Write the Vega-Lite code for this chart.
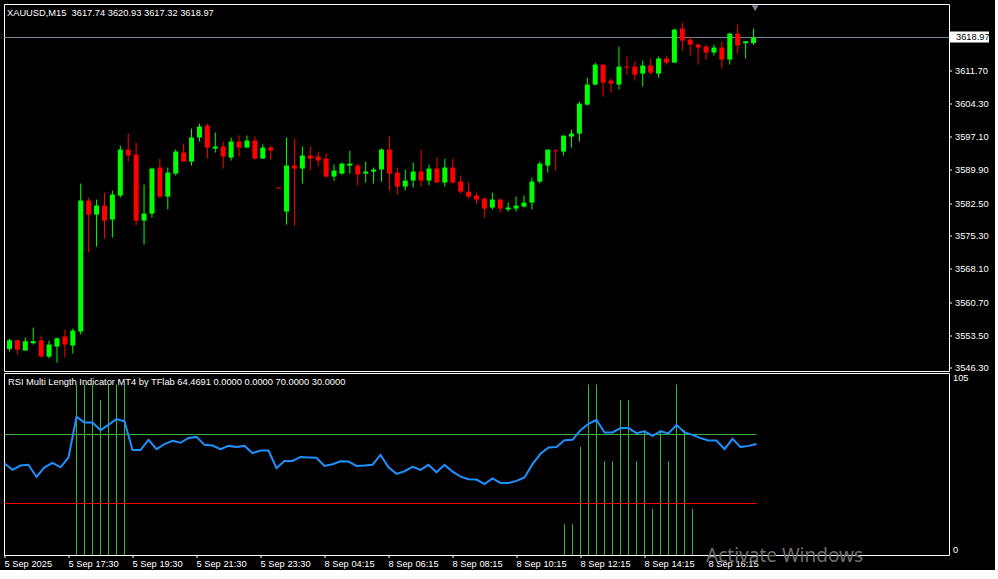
{
  "$schema": "https://vega.github.io/schema/vega-lite/v6.json",
  "background": "#000000",
  "padding": {"left": 3, "top": 3, "right": 0, "bottom": 0},
  "bounds": "flush",
  "spacing": 2,
  "config": {
    "view": {"stroke": "#ffffff", "strokeWidth": 1},
    "font": "Liberation Sans",
    "axis": {"labelFont": "Liberation Sans", "labelFontSize": 9.3, "labelColor": "#ffffff", "domain": false, "grid": false, "tickColor": "#ffffff", "title": null, "labelOverlap": false, "translate": 0},
    "title": {"font": "Liberation Sans", "fontSize": 9.3, "fontWeight": "normal", "color": "#ffffff", "anchor": "start", "frame": "group"}
  },
  "datasets": {
    "candles": [
      {"i":0,"o":3550.56,"h":3552.76,"l":3549.97,"c":3552.46},
      {"i":1,"o":3552.46,"h":3552.46,"l":3549.31,"c":3550.41},
      {"i":2,"o":3550.19,"h":3553.05,"l":3550.19,"c":3552.24},
      {"i":3,"o":3551.80,"h":3555.25,"l":3551.51,"c":3552.24},
      {"i":4,"o":3552.46,"h":3553.49,"l":3548.66,"c":3548.87},
      {"i":5,"o":3548.87,"h":3552.39,"l":3548.44,"c":3551.51},
      {"i":6,"o":3551.07,"h":3553.05,"l":3547.56,"c":3552.90},
      {"i":7,"o":3553.27,"h":3554.81,"l":3548.66,"c":3551.51},
      {"i":8,"o":3551.29,"h":3555.03,"l":3549.53,"c":3554.59},
      {"i":9,"o":3554.37,"h":3586.88,"l":3553.71,"c":3583.15},
      {"i":10,"o":3583.15,"h":3583.80,"l":3571.72,"c":3580.07},
      {"i":11,"o":3580.07,"h":3583.37,"l":3573.04,"c":3582.05},
      {"i":12,"o":3582.05,"h":3584.90,"l":3574.80,"c":3578.75},
      {"i":13,"o":3578.97,"h":3585.34,"l":3575.02,"c":3584.46},
      {"i":14,"o":3584.24,"h":3595.23,"l":3583.80,"c":3594.35},
      {"i":15,"o":3594.35,"h":3597.86,"l":3591.71,"c":3593.03},
      {"i":16,"o":3593.25,"h":3595.89,"l":3577.65,"c":3578.75},
      {"i":17,"o":3578.75,"h":3586.66,"l":3573.48,"c":3580.29},
      {"i":18,"o":3580.29,"h":3590.40,"l":3579.41,"c":3590.18},
      {"i":19,"o":3590.40,"h":3592.37,"l":3583.58,"c":3584.02},
      {"i":20,"o":3584.02,"h":3590.40,"l":3581.17,"c":3589.30},
      {"i":21,"o":3589.08,"h":3594.35,"l":3588.64,"c":3593.91},
      {"i":22,"o":3593.69,"h":3595.67,"l":3591.71,"c":3591.71},
      {"i":23,"o":3591.71,"h":3598.96,"l":3590.83,"c":3596.99},
      {"i":24,"o":3596.99,"h":3600.06,"l":3596.11,"c":3599.40},
      {"i":25,"o":3599.62,"h":3600.06,"l":3592.37,"c":3594.79},
      {"i":26,"o":3594.57,"h":3598.08,"l":3593.69,"c":3595.01},
      {"i":27,"o":3595.01,"h":3596.11,"l":3590.18,"c":3592.81},
      {"i":28,"o":3592.59,"h":3596.99,"l":3591.93,"c":3596.11},
      {"i":29,"o":3596.11,"h":3597.43,"l":3592.81,"c":3594.79},
      {"i":30,"o":3594.79,"h":3597.43,"l":3594.79,"c":3596.33},
      {"i":31,"o":3596.33,"h":3597.21,"l":3592.15,"c":3592.37},
      {"i":32,"o":3592.37,"h":3595.45,"l":3592.37,"c":3594.79},
      {"i":33,"o":3594.79,"h":3595.23,"l":3592.15,"c":3594.13},
      {"i":34,"o":3586.00,"h":3586.00,"l":3585.78,"c":3585.78},
      {"i":35,"o":3580.73,"h":3596.99,"l":3577.87,"c":3590.83},
      {"i":36,"o":3590.83,"h":3596.77,"l":3577.65,"c":3590.18},
      {"i":37,"o":3590.18,"h":3595.01,"l":3586.88,"c":3593.03},
      {"i":38,"o":3593.03,"h":3595.01,"l":3589.74,"c":3592.37},
      {"i":39,"o":3592.81,"h":3593.91,"l":3590.61,"c":3591.93},
      {"i":40,"o":3592.37,"h":3593.47,"l":3588.20,"c":3588.42},
      {"i":41,"o":3588.42,"h":3591.05,"l":3587.54,"c":3589.74},
      {"i":42,"o":3589.08,"h":3591.49,"l":3588.86,"c":3591.27},
      {"i":43,"o":3590.83,"h":3594.13,"l":3589.08,"c":3591.27},
      {"i":44,"o":3590.83,"h":3591.27,"l":3586.44,"c":3588.86},
      {"i":45,"o":3589.08,"h":3591.71,"l":3587.10,"c":3589.52},
      {"i":46,"o":3589.52,"h":3590.40,"l":3586.88,"c":3589.96},
      {"i":47,"o":3589.96,"h":3594.57,"l":3587.32,"c":3594.35},
      {"i":48,"o":3594.35,"h":3597.21,"l":3585.34,"c":3589.08},
      {"i":49,"o":3589.30,"h":3590.40,"l":3584.46,"c":3586.22},
      {"i":50,"o":3586.22,"h":3589.96,"l":3585.34,"c":3587.54},
      {"i":51,"o":3587.54,"h":3591.49,"l":3586.00,"c":3589.52},
      {"i":52,"o":3589.52,"h":3594.35,"l":3586.22,"c":3587.54},
      {"i":53,"o":3587.54,"h":3591.05,"l":3586.44,"c":3590.18},
      {"i":54,"o":3590.18,"h":3592.59,"l":3587.10,"c":3587.10},
      {"i":55,"o":3587.10,"h":3592.37,"l":3586.22,"c":3590.40},
      {"i":56,"o":3590.40,"h":3592.37,"l":3586.88,"c":3587.10},
      {"i":57,"o":3587.32,"h":3588.64,"l":3584.68,"c":3585.12},
      {"i":58,"o":3585.12,"h":3587.10,"l":3583.58,"c":3584.02},
      {"i":59,"o":3584.24,"h":3584.90,"l":3582.49,"c":3583.37},
      {"i":60,"o":3583.58,"h":3583.80,"l":3579.41,"c":3581.39},
      {"i":61,"o":3581.61,"h":3584.90,"l":3581.17,"c":3583.37},
      {"i":62,"o":3583.36,"h":3583.58,"l":3580.51,"c":3581.39},
      {"i":63,"o":3581.17,"h":3582.70,"l":3580.73,"c":3581.61},
      {"i":64,"o":3581.39,"h":3584.02,"l":3580.73,"c":3582.05},
      {"i":65,"o":3581.83,"h":3584.24,"l":3581.61,"c":3582.70},
      {"i":66,"o":3582.70,"h":3588.20,"l":3581.17,"c":3587.32},
      {"i":67,"o":3587.32,"h":3591.71,"l":3586.88,"c":3591.27},
      {"i":68,"o":3590.83,"h":3594.35,"l":3589.29,"c":3594.35},
      {"i":69,"o":3594.20,"h":3594.35,"l":3589.73,"c":3593.98},
      {"i":70,"o":3593.91,"h":3597.42,"l":3593.03,"c":3597.42},
      {"i":71,"o":3597.20,"h":3598.74,"l":3594.79,"c":3597.86},
      {"i":72,"o":3597.86,"h":3604.89,"l":3596.11,"c":3604.45},
      {"i":73,"o":3604.23,"h":3610.16,"l":3604.01,"c":3608.63},
      {"i":74,"o":3608.63,"h":3613.46,"l":3608.41,"c":3613.02},
      {"i":75,"o":3613.02,"h":3613.02,"l":3605.99,"c":3609.07},
      {"i":76,"o":3609.51,"h":3609.94,"l":3606.87,"c":3608.85},
      {"i":77,"o":3608.63,"h":3616.97,"l":3607.53,"c":3612.58},
      {"i":78,"o":3612.58,"h":3614.78,"l":3610.82,"c":3612.36},
      {"i":79,"o":3612.58,"h":3613.68,"l":3609.51,"c":3610.82},
      {"i":80,"o":3611.04,"h":3613.90,"l":3608.19,"c":3612.80},
      {"i":81,"o":3612.80,"h":3614.34,"l":3610.82,"c":3611.26},
      {"i":82,"o":3611.04,"h":3614.78,"l":3610.16,"c":3614.34},
      {"i":83,"o":3614.34,"h":3615.00,"l":3613.02,"c":3613.46},
      {"i":84,"o":3613.46,"h":3620.93,"l":3613.46,"c":3620.71},
      {"i":85,"o":3620.93,"h":3622.25,"l":3616.10,"c":3618.29},
      {"i":86,"o":3618.51,"h":3619.17,"l":3615.00,"c":3617.41},
      {"i":87,"o":3617.41,"h":3617.63,"l":3613.02,"c":3616.76},
      {"i":88,"o":3616.97,"h":3617.41,"l":3614.12,"c":3615.66},
      {"i":89,"o":3615.66,"h":3617.41,"l":3615.00,"c":3616.76},
      {"i":90,"o":3616.76,"h":3618.07,"l":3612.14,"c":3614.12},
      {"i":91,"o":3614.12,"h":3620.05,"l":3613.02,"c":3619.83},
      {"i":92,"o":3619.83,"h":3621.81,"l":3615.44,"c":3617.19},
      {"i":93,"o":3617.71,"h":3618.15,"l":3614.34,"c":3618.15},
      {"i":94,"o":3617.74,"h":3620.93,"l":3617.32,"c":3618.97}
    ],
    "rsi": [
      {"i":0,"rsi":53.2,"hist":null},{"i":1,"rsi":49.5,"hist":null},{"i":2,"rsi":52.0,"hist":null},{"i":3,"rsi":52.5,"hist":null},
      {"i":4,"rsi":45.4,"hist":null},{"i":5,"rsi":51.0,"hist":null},{"i":6,"rsi":53.5,"hist":null},{"i":7,"rsi":51.0,"hist":null},
      {"i":8,"rsi":56.7,"hist":null},{"i":9,"rsi":80.2,"hist":99},{"i":10,"rsi":77.0,"hist":99},{"i":11,"rsi":77.0,"hist":99},
      {"i":12,"rsi":72.5,"hist":90},{"i":13,"rsi":75.6,"hist":99},{"i":14,"rsi":79.0,"hist":99},{"i":15,"rsi":77.7,"hist":99},
      {"i":16,"rsi":61.0,"hist":null},{"i":17,"rsi":61.0,"hist":null},{"i":18,"rsi":66.9,"hist":null},{"i":19,"rsi":61.5,"hist":null},
      {"i":20,"rsi":64.4,"hist":null},{"i":21,"rsi":66.3,"hist":null},{"i":22,"rsi":65.2,"hist":null},{"i":23,"rsi":68.0,"hist":null},
      {"i":24,"rsi":68.6,"hist":null},{"i":25,"rsi":64.0,"hist":null},{"i":26,"rsi":63.6,"hist":null},{"i":27,"rsi":61.5,"hist":null},
      {"i":28,"rsi":63.4,"hist":null},{"i":29,"rsi":62.8,"hist":null},{"i":30,"rsi":63.4,"hist":null},{"i":31,"rsi":59.2,"hist":null},
      {"i":32,"rsi":60.7,"hist":null},{"i":33,"rsi":60.7,"hist":null},{"i":34,"rsi":50.5,"hist":null},{"i":35,"rsi":54.7,"hist":null},
      {"i":36,"rsi":54.7,"hist":null},{"i":37,"rsi":57.0,"hist":null},{"i":38,"rsi":56.7,"hist":null},{"i":39,"rsi":56.5,"hist":null},
      {"i":40,"rsi":51.8,"hist":null},{"i":41,"rsi":52.8,"hist":null},{"i":42,"rsi":54.5,"hist":null},{"i":43,"rsi":54.3,"hist":null},
      {"i":44,"rsi":51.8,"hist":null},{"i":45,"rsi":52.0,"hist":null},{"i":46,"rsi":52.4,"hist":null},{"i":47,"rsi":58.2,"hist":null},
      {"i":48,"rsi":51.0,"hist":null},{"i":49,"rsi":47.2,"hist":null},{"i":50,"rsi":48.7,"hist":null},{"i":51,"rsi":51.2,"hist":null},
      {"i":52,"rsi":49.5,"hist":null},{"i":53,"rsi":52.4,"hist":null},{"i":54,"rsi":48.1,"hist":null},{"i":55,"rsi":52.4,"hist":null},
      {"i":56,"rsi":48.5,"hist":null},{"i":57,"rsi":45.6,"hist":null},{"i":58,"rsi":44.1,"hist":null},{"i":59,"rsi":43.9,"hist":null},
      {"i":60,"rsi":41.2,"hist":null},{"i":61,"rsi":44.5,"hist":null},{"i":62,"rsi":41.9,"hist":null},{"i":63,"rsi":41.9,"hist":null},
      {"i":64,"rsi":43.1,"hist":null},{"i":65,"rsi":45.1,"hist":null},{"i":66,"rsi":52.8,"hist":null},{"i":67,"rsi":58.8,"hist":null},
      {"i":68,"rsi":62.5,"hist":null},{"i":69,"rsi":62.8,"hist":null},{"i":70,"rsi":66.7,"hist":18},{"i":71,"rsi":66.9,"hist":18},
      {"i":72,"rsi":72.5,"hist":63},{"i":73,"rsi":76.2,"hist":99},{"i":74,"rsi":78.5,"hist":99},{"i":75,"rsi":71.2,"hist":54.5},
      {"i":76,"rsi":71.2,"hist":54.5},{"i":77,"rsi":73.7,"hist":90},{"i":78,"rsi":73.7,"hist":90},{"i":79,"rsi":70.8,"hist":54.5},
      {"i":80,"rsi":71.8,"hist":72.5},{"i":81,"rsi":69.2,"hist":27},{"i":82,"rsi":71.9,"hist":72.5},{"i":83,"rsi":70.6,"hist":54.5},
      {"i":84,"rsi":75.6,"hist":99},{"i":85,"rsi":71.2,"hist":72.5},{"i":86,"rsi":69.8,"hist":27},{"i":87,"rsi":67.9,"hist":null},
      {"i":88,"rsi":66.5,"hist":null},{"i":89,"rsi":66.5,"hist":null},{"i":90,"rsi":61.5,"hist":null},{"i":91,"rsi":67.5,"hist":null},
      {"i":92,"rsi":62.7,"hist":null},{"i":93,"rsi":63.4,"hist":null},{"i":94,"rsi":64.5,"hist":null}
    ],
    "levels": [
      {"level": 70, "start": 0, "end": 94},
      {"level": 30, "start": 0, "end": 94}
    ]
  },
  "vconcat": [
    {
      "width": 945,
      "height": 367,
      "title": {"text": "XAUUSD,M15\u00a0 3617.74 3620.93 3617.32 3618.97", "orient": "top", "offset": -14, "baseline": "top", "dx": 3},
      "layer": [
        {
          "data": {"values": [{"bid": 3618.97}]},
          "mark": {"type": "rule", "color": "#778899", "strokeWidth": 1},
          "encoding": {
            "y": {"field": "bid", "type": "quantitative",
              "scale": {"domain": [3545.705, 3626.329], "nice": false, "zero": false},
              "axis": {
                "orient": "right",
                "values": [3546.30, 3553.50, 3560.70, 3568.10, 3575.30, 3582.50, 3589.90, 3597.10, 3604.30, 3611.70, 3618.97],
                "tickCount": 30,
                "format": ".2f",
                "tickSize": {"condition": {"test": "datum.value > 3615", "value": 40}, "value": 3},
                "tickWidth": {"condition": {"test": "datum.value > 3615", "value": 11}, "value": 1},
                "labelColor": {"condition": {"test": "datum.value > 3615", "value": "#000000"}, "value": "#ffffff"},
                "labelPadding": {"condition": {"test": "datum.value > 3615", "value": -33}, "value": 3},
                "labelOverlap": false,
                "labelFlush": false,
                "labelBaseline": "middle"
              }
            }
          }
        },
        {
          "data": {"name": "candles"},
          "mark": {"type": "rule", "strokeWidth": 1, "clip": true},
          "encoding": {
            "x": {"field": "i", "type": "quantitative", "scale": {"domain": [-0.0625, 118.0625], "nice": false, "zero": false}, "axis": null},
            "y": {"field": "l", "type": "quantitative"},
            "y2": {"field": "h"},
            "color": {"condition": {"test": "datum.c >= datum.o", "value": "#00ff00"}, "value": "#ff0000"}
          }
        },
        {
          "data": {"name": "candles"},
          "mark": {"type": "bar", "width": 5, "clip": true},
          "encoding": {
            "x": {"field": "i", "type": "quantitative"},
            "y": {"field": "o", "type": "quantitative"},
            "y2": {"field": "c"},
            "color": {"condition": {"test": "datum.c >= datum.o", "value": "#00ff00"}, "value": "#ff0000"}
          }
        },
        {
          "data": {"values": [{"shift": 94.2, "top": 3625.4}]},
          "mark": {"type": "point", "shape": "triangle-down", "filled": true, "color": "#778899", "size": 45, "opacity": 1, "clip": true},
          "encoding": {
            "x": {"field": "shift", "type": "quantitative"},
            "y": {"field": "top", "type": "quantitative"}
          }
        }
      ]
    },
    {
      "width": 945,
      "height": 182,
      "title": {"text": "RSI Multi Length Indicator MT4 by TFlab 64.4691 0.0000 0.0000 70.0000 30.0000", "orient": "top", "offset": -14, "baseline": "top", "dx": 4},
      "layer": [
        {
          "data": {"name": "rsi"},
          "transform": [{"filter": "datum.hist != null"}],
          "mark": {"type": "rule", "color": "#3cb043", "strokeWidth": 1, "clip": true},
          "encoding": {
            "x": {"field": "i", "type": "quantitative",
              "scale": {"domain": [-0.0625, 118.0625], "nice": false, "zero": false},
              "axis": {
                "orient": "bottom",
                "values": [0, 8, 16, 24, 32, 40, 48, 56, 64, 72, 80, 88],
                "tickCount": 30,
                "labelExpr": "['5 Sep 2025','5 Sep 17:30','5 Sep 19:30','5 Sep 21:30','5 Sep 23:30','8 Sep 04:15','8 Sep 06:15','8 Sep 08:15','8 Sep 10:15','8 Sep 12:15','8 Sep 14:15','8 Sep 16:15'][round(datum.value/8)]",
                "labelAlign": "left",
                "labelBaseline": "top",
                "labelPadding": 2,
                "tickSize": 3,
                "labelOverlap": false,
                "labelFlush": false
              }
            },
            "y": {"field": "hist", "type": "quantitative",
              "scale": {"domain": [0.145, 105.652], "nice": false, "zero": false},
              "axis": {
                "orient": "right",
                "values": [0.145, 105],
                "tickCount": 30,
                "labelExpr": "datum.value < 1 ? '0' : '105'",
                "ticks": false,
                "tickSize": 0,
                "labelPadding": 4,
                "labelFlush": false,
                "labelOverlap": false,
                "labelBaseline": {"condition": {"test": "datum.value > 50", "value": "top"}, "value": "bottom"}
              }
            },
            "y2": {"datum": 0}
          }
        },
        {
          "data": {"name": "levels"},
          "mark": {"type": "rule", "strokeWidth": 1},
          "encoding": {
            "x": {"field": "start", "type": "quantitative"},
            "x2": {"field": "end"},
            "y": {"field": "level", "type": "quantitative"},
            "color": {"condition": {"test": "datum.level > 50", "value": "#3cb043"}, "value": "#ff0000"}
          }
        },
        {
          "data": {"name": "rsi"},
          "mark": {"type": "line", "color": "#1e90ff", "strokeWidth": 2, "clip": true},
          "encoding": {
            "x": {"field": "i", "type": "quantitative"},
            "y": {"field": "rsi", "type": "quantitative"}
          }
        },
        {
          "data": {"values": [{"wx": 87.7, "wy": -4.1, "msg": "Activate Windows"}]},
          "mark": {"type": "text", "font": "Noto Sans", "fontSize": 19, "color": "#6e6e6e", "align": "left", "baseline": "alphabetic"},
          "encoding": {
            "x": {"field": "wx", "type": "quantitative"},
            "y": {"field": "wy", "type": "quantitative"},
            "text": {"field": "msg"}
          }
        }
      ]
    }
  ]
}
